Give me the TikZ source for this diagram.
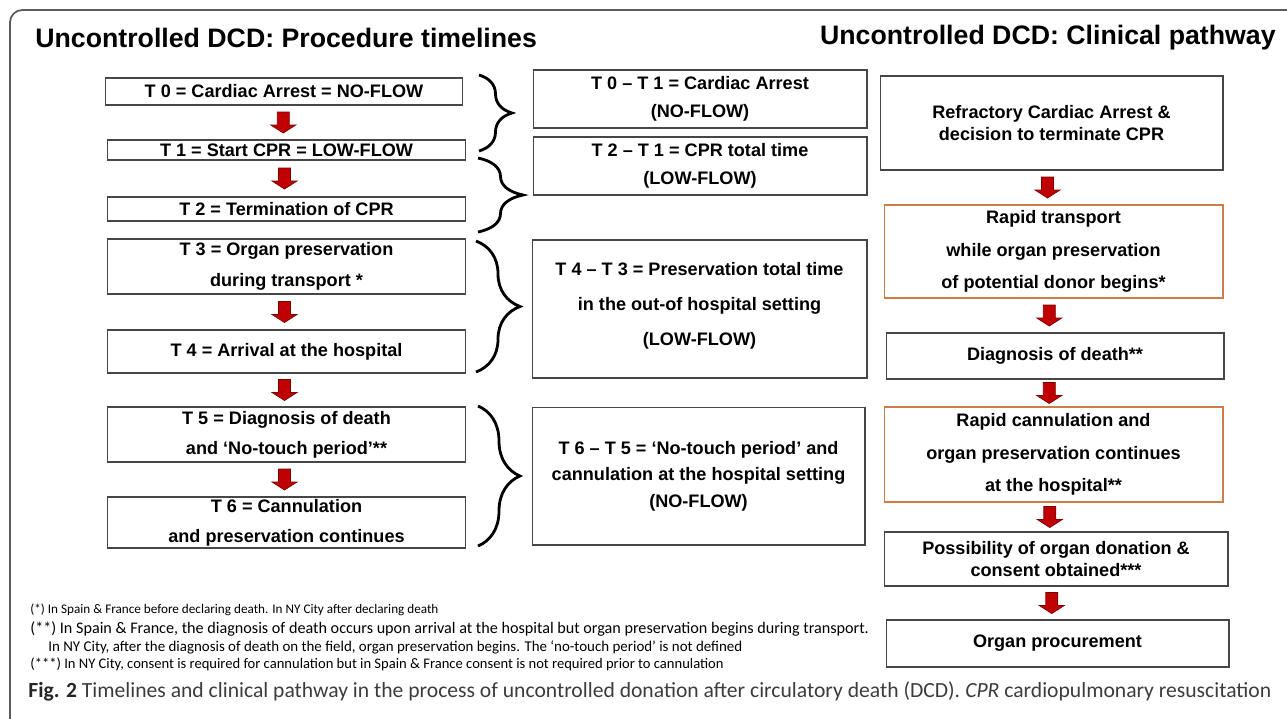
\documentclass[tikz,border=0pt]{standalone}
\usepackage{fontspec}
\setmainfont{Liberation Sans}
\newfontfamily\notefont{Carlito}
\usetikzlibrary{calc,decorations.pathreplacing}

\definecolor{framegray}{RGB}{90,90,90}
\definecolor{boxgray}{RGB}{70,70,70}
\definecolor{boxorange}{RGB}{205,125,70}
\definecolor{arrowred}{RGB}{192,0,0}
\definecolor{arrowedge}{RGB}{125,0,0}
\definecolor{captiongray}{RGB}{60,60,60}

\newcommand{\bx}[1]{\fontsize{10.3}{#1}\selectfont\bfseries}
\newcommand{\nt}[1]{\notefont\fontsize{#1}{10}\selectfont}

\tikzset{
  stepbox/.style={draw=boxgray, line width=0.6pt, fill=white, align=center, inner sep=0pt},
  orangebox/.style={stepbox, draw=boxorange},
  timebrace/.style={decorate, decoration={brace, amplitude=#1}, line width=1.6pt},
  downarrow/.pic={\filldraw[fill=arrowred, draw=arrowedge, line width=0.4pt]
      (-6,-10.5) -- (-6,2.5) -- (-12.5,2.5) -- (0,10.5) -- (12.5,2.5) -- (6,2.5) -- (6,-10.5) -- cycle;},
  footnote/.style={anchor=west, inner sep=0pt},
  title/.style={inner sep=0pt, font=\fontsize{15.2}{18}\selectfont\bfseries},
}

\begin{document}
\begin{tikzpicture}[x=0.02cm, y=-0.02cm]
	\useasboundingbox (0,0) rectangle (1287,718);
	
	% outer frame
	\begin{scope}
		\clip (0,0) rectangle (1287,718);
		\draw[framegray, line width=1pt, rounded corners=7pt] (10,10) rectangle (1320,740);
	\end{scope}
	
	\node[title, anchor=west] (lefttitle) at (35,38) {Uncontrolled DCD: Procedure timelines};
	\node[title, anchor=east] (righttitle) at (1276,38) {Uncontrolled DCD: Clinical pathway};
	
	% procedure timelines
	\node[stepbox, minimum width=7.16cm, minimum height=0.54cm, font=\bx{12}] (t0) at (284,91.5) {T 0 = Cardiac Arrest = NO-FLOW};
	\node[stepbox, minimum width=7.18cm, minimum height=0.40cm, font=\bx{12}] (t1) at (286.5,150) {T 1 = Start CPR = LOW-FLOW};
	\node[stepbox, minimum width=7.18cm, minimum height=0.48cm, font=\bx{12}] (t2) at (286.5,209) {T 2 = Termination of CPR};
	\node[stepbox, minimum width=7.18cm, minimum height=1.10cm, font=\bx{18}] (t3) at (286.5,266.5) {T 3 = Organ preservation\\during transport *};
	\node[stepbox, minimum width=7.18cm, minimum height=0.86cm, font=\bx{12}] (t4) at (286.5,351.5) {T 4 = Arrival at the hospital};
	\node[stepbox, minimum width=7.18cm, minimum height=1.10cm, font=\bx{17}] (t5) at (286.5,434.5) {T 5 = Diagnosis of death\\and ‘No-touch period’**};
	\node[stepbox, minimum width=7.18cm, minimum height=1.02cm, font=\bx{17}] (t6) at (286.5,522.5) {T 6 = Cannulation\\and preservation continues};
	
	\path ($(t0.south)!0.5!(t1.north)+(-2,0)$) pic {downarrow};
	\path ($(t1.south)!0.5!(t2.north)+(-2,0)$) pic {downarrow};
	\path ($(t3.south)!0.5!(t4.north)+(-2,0)$) pic {downarrow};
	\path ($(t4.south)!0.5!(t5.north)+(-2,0)$) pic {downarrow};
	\path ($(t5.south)!0.5!(t6.north)+(-2,0)$) pic {downarrow};
	
	\draw[timebrace=0.66cm] (479,75) -- (479,151);
	\draw[timebrace=0.90cm] (478,158) -- (478,232);
	\draw[timebrace=0.88cm] (476,241) -- (476,372);
	\draw[timebrace=0.84cm] (478,406) -- (478,546);
	
	% time spans
	\node[stepbox, minimum width=6.68cm, minimum height=1.16cm, font=\bx{16}] (m1) at (700,99) {T 0 – T 1 = Cardiac Arrest\\(NO-FLOW)};
	\node[stepbox, minimum width=6.68cm, minimum height=1.16cm, font=\bx{16}] (m2) at (700,166) {T 2 – T 1 = CPR total time\\(LOW-FLOW)};
	\node[stepbox, minimum width=6.70cm, minimum height=2.76cm, font=\bx{20}] (m3) at (699.5,309) {T 4 – T 3 = Preservation total time\\in the out-of hospital setting\\(LOW-FLOW)\rule[-6pt]{0pt}{6pt}};
	\node[stepbox, minimum width=6.66cm, minimum height=2.76cm, font=\bx{15}] (m4) at (698.5,476) {T 6 – T 5 = ‘No-touch period’ and\\cannulation at the hospital setting\\(NO-FLOW)};
	
	% clinical pathway
	\node[stepbox, minimum width=6.86cm, minimum height=1.88cm, font=\bx{13}] (r1) at (1051.5,123) {Refractory Cardiac Arrest \&\\decision to terminate CPR};
	\node[orangebox, minimum width=6.78cm, minimum height=1.86cm, font=\bx{18.5}] (r2) at (1053.5,251.5) {Rapid transport\\while organ preservation\\of potential donor begins*};
	\node[stepbox, minimum width=6.76cm, minimum height=0.92cm, font=\bx{12}] (r3) at (1055,356) {Diagnosis of death**};
	\node[orangebox, minimum width=6.78cm, minimum height=1.90cm, font=\bx{18.5}] (r4) at (1053.5,454.5) {Rapid cannulation and\\organ preservation continues\\at the hospital**};
	\node[stepbox, minimum width=6.88cm, minimum height=1.08cm, font=\bx{12.5}] (r5) at (1056,559) {Possibility of organ donation \&\\consent obtained***};
	\node[stepbox, minimum width=6.86cm, minimum height=0.94cm, font=\bx{12}] (r6) at (1057.5,643.5) {Organ procurement};
	
	\path ($(r1.south)!0.5!(r2.north)+(-5,0)$) pic {downarrow};
	\path ($(r2.south)!0.5!(r3.north)+(-5,0)$) pic {downarrow};
	\path ($(r3.south)!0.5!(r4.north)+(-5,0)$) pic {downarrow};
	\path ($(r4.south)!0.5!(r5.north)+(-5,0)$) pic {downarrow};
	\path ($(r5.south)!0.5!(r6.north)+(-5,0)$) pic {downarrow};
	
	% notes and caption
	\node[footnote, font=\nt{7.5}] (note1) at (30,610) {(*) In Spain \& France before declaring death. In NY City after declaring death};
	\node[footnote, font=\nt{9.2}] (note2) at (30,629) {(**) In Spain \& France, the diagnosis of death occurs upon arrival at the hospital but organ preservation begins during transport.};
	\node[footnote, font=\nt{8.5}] (note2b) at (48,647) {In NY City, after the diagnosis of death on the field, organ preservation begins. The ‘no-touch period’ is not defined};
	\node[footnote, font=\nt{8.3}] (note3) at (30,664) {(***) In NY City, consent is required for cannulation but in Spain \& France consent is not required prior to cannulation};
	
	\node[anchor=west, inner sep=0pt, font=\notefont\fontsize{12.3}{14}\selectfont, text=captiongray] (caption) at (28,691) {\textbf{\color{black!85}Fig. 2} Timelines and clinical pathway in the process of uncontrolled donation after circulatory death (DCD). \textit{CPR} cardiopulmonary resuscitation};
\end{tikzpicture}
\end{document}
